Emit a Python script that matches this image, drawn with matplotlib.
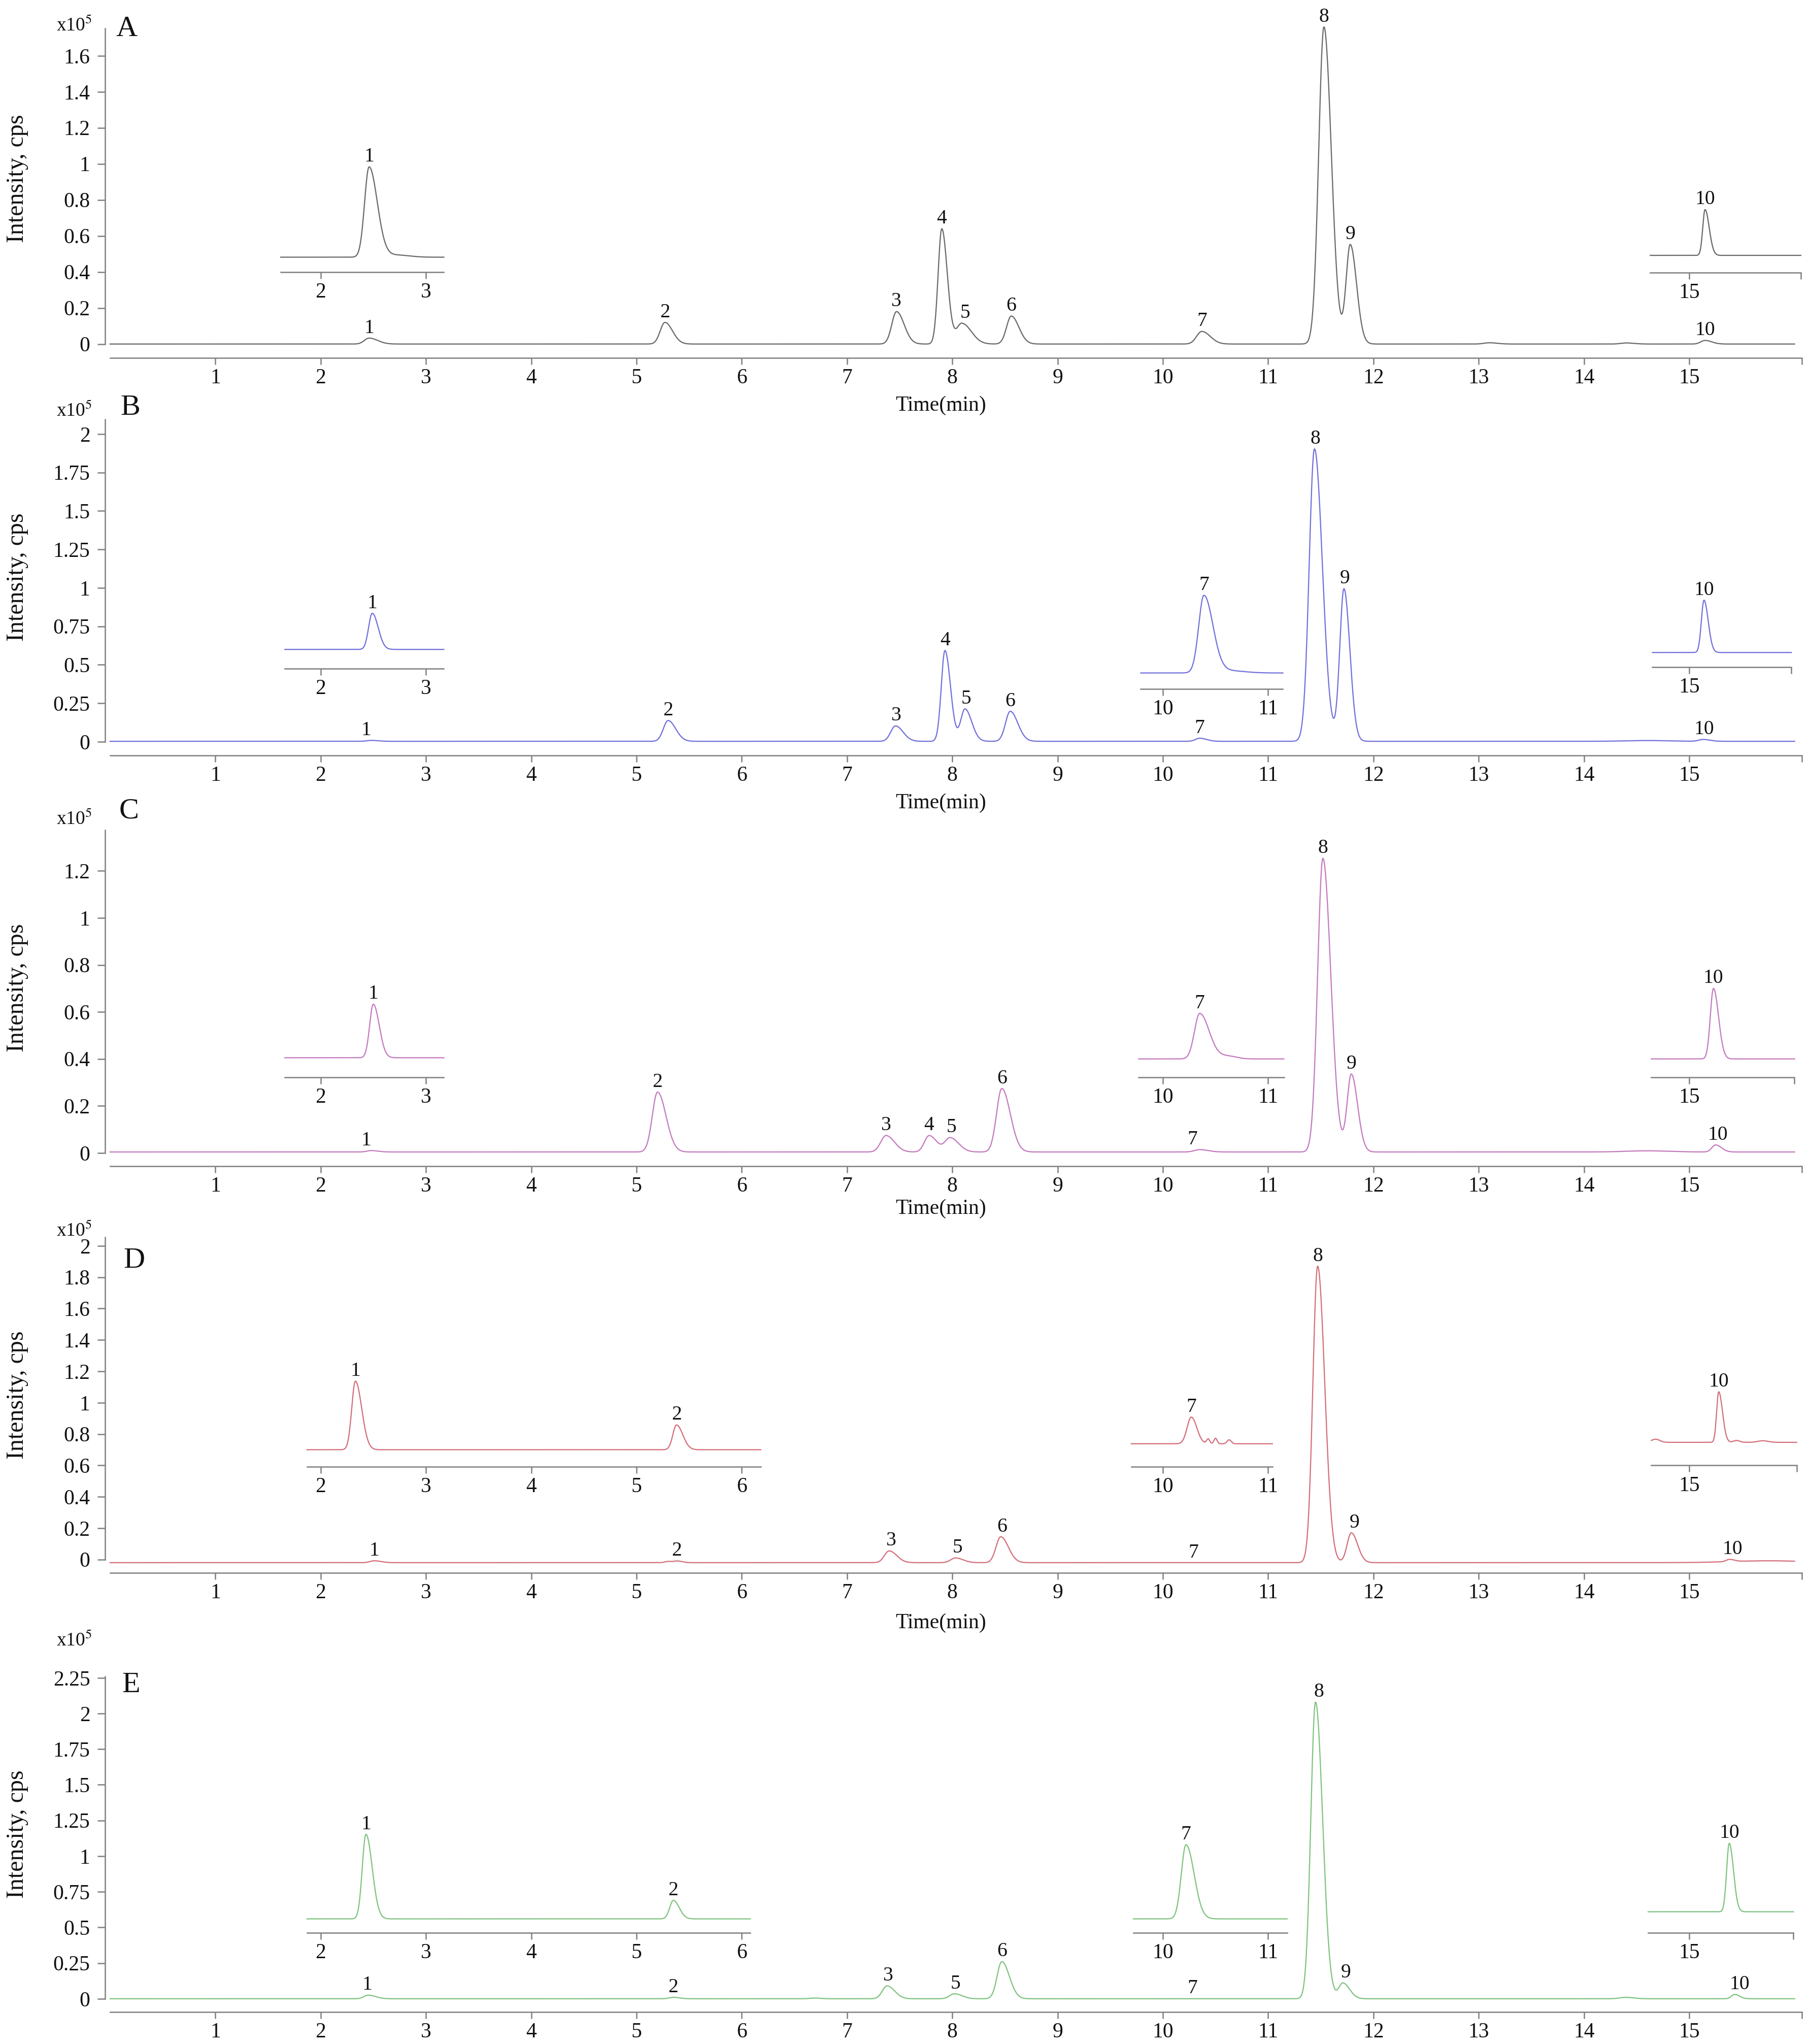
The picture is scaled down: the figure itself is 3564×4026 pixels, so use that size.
import numpy as np
import matplotlib.pyplot as plt

plt.rcParams['font.family'] = ['Liberation Serif', 'DejaVu Serif']
plt.rcParams['mathtext.fontset'] = 'stix'

# Output size
FIG_W = 3564
FIG_H = 4026
DPI = 300

AXIS_COLOR = '#7f7f7f'
TEXT_COLOR = '#111111'

# Peak tables: (retention time min, height x1e5 cps, sigma min, tailing)
A_PEAKS = [
    (2.46, 0.033, 0.045, 1.8),
    (5.27, 0.12, 0.045, 1.6),
    (7.47, 0.18, 0.045, 1.6),
    (7.90, 0.64, 0.035, 1.5),
    (8.09, 0.115, 0.05, 1.8),
    (8.56, 0.155, 0.045, 1.6),
    (10.37, 0.07, 0.05, 1.6),
    (11.53, 1.76, 0.05, 1.4),
    (11.78, 0.55, 0.04, 1.5),
    (13.10, 0.007, 0.05, 1.5),
    (14.40, 0.006, 0.05, 1.5),
    (15.15, 0.02, 0.04, 1.6),
]
B_PEAKS = [
    (2.48, 0.006, 0.04, 1.6),
    (5.30, 0.135, 0.045, 1.6),
    (7.46, 0.10, 0.045, 1.6),
    (7.93, 0.59, 0.035, 1.5),
    (8.12, 0.21, 0.04, 1.6),
    (8.55, 0.195, 0.045, 1.6),
    (10.35, 0.02, 0.04, 1.6),
    (11.44, 1.90, 0.05, 1.5),
    (11.72, 0.99, 0.04, 1.4),
    (14.60, 0.005, 0.2, 1.0),
    (15.13, 0.012, 0.04, 1.6),
]
C_PEAKS = [
    (2.48, 0.006, 0.04, 1.6),
    (5.20, 0.255, 0.05, 1.6),
    (7.37, 0.07, 0.05, 1.6),
    (7.78, 0.07, 0.045, 1.6),
    (7.98, 0.06, 0.05, 1.6),
    (8.47, 0.27, 0.05, 1.6),
    (10.35, 0.01, 0.05, 1.6),
    (11.52, 1.25, 0.05, 1.5),
    (11.79, 0.33, 0.04, 1.5),
    (14.60, 0.005, 0.2, 1.0),
    (15.25, 0.03, 0.035, 1.6),
]
D_PEAKS = [
    (2.51, 0.012, 0.04, 1.6),
    (5.30, 0.008, 0.03, 1.5),
    (5.39, 0.01, 0.03, 1.5),
    (7.40, 0.075, 0.045, 1.6),
    (8.03, 0.03, 0.045, 1.6),
    (8.46, 0.165, 0.045, 1.6),
    (11.47, 1.89, 0.045, 1.5),
    (11.79, 0.19, 0.04, 1.5),
    (15.38, 0.014, 0.03, 1.6),
    (15.75, 0.012, 0.35, 1.0),
]
E_PEAKS = [
    (2.45, 0.025, 0.04, 1.8),
    (5.35, 0.01, 0.04, 1.5),
    (6.70, 0.005, 0.05, 1.0),
    (7.38, 0.09, 0.045, 1.6),
    (8.02, 0.035, 0.045, 1.6),
    (8.47, 0.26, 0.045, 1.6),
    (11.45, 2.08, 0.045, 1.5),
    (11.71, 0.11, 0.04, 1.6),
    (14.40, 0.01, 0.06, 1.2),
    (15.43, 0.03, 0.03, 1.6),
]
BASELINES = {'A': 0.0, 'B': 0.003, 'C': 0.004, 'D': -0.02, 'E': 0.0}

# Peak numbers and where they sit (min)
A_LABELS = [('1', 2.46), ('2', 5.27), ('3', 7.47), ('4', 7.90), ('5', 8.12),
            ('6', 8.56), ('7', 10.37), ('8', 11.53), ('9', 11.78), ('10', 15.15)]
B_LABELS = [('1', 2.43), ('2', 5.30), ('3', 7.47), ('4', 7.93), ('5', 8.13),
            ('6', 8.55), ('7', 10.35), ('8', 11.45), ('9', 11.73), ('10', 15.14)]
C_LABELS = [('1', 2.43), ('2', 5.20), ('3', 7.37), ('4', 7.78), ('5', 7.99),
            ('6', 8.47), ('7', 10.28), ('8', 11.52), ('9', 11.79), ('10', 15.27)]
D_LABELS = [('1', 2.51), ('2', 5.38), ('3', 7.42), ('5', 8.05), ('6', 8.47),
            ('7', 10.29), ('8', 11.47), ('9', 11.82), ('10', 15.41)]
E_LABELS = [('1', 2.44), ('2', 5.35), ('3', 7.39), ('5', 8.03), ('6', 8.47),
            ('7', 10.28), ('8', 11.48), ('9', 11.74), ('10', 15.48)]

# Enlarged views: peaks (height above the inset baseline, in main units)
A_INSET_PEAKS = [
    [(2.46, 0.50, 0.043, 1.8), (2.72, 0.012, 0.12, 1.0)],
    [(15.15, 0.254, 0.022, 1.8)],
]
B_INSET_PEAKS = [
    [(2.49, 0.235, 0.035, 1.6)],
    [(10.39, 0.50, 0.05, 1.7), (10.62, 0.015, 0.15, 1.0)],
    [(15.14, 0.34, 0.025, 1.6)],
]
C_INSET_PEAKS = [
    [(2.50, 0.228, 0.035, 1.6)],
    [(10.35, 0.194, 0.05, 1.8), (10.62, 0.012, 0.08, 1.0)],
    [(15.23, 0.30, 0.03, 1.6)],
]
D_INSET_PEAKS = [
    [(2.33, 0.437, 0.035, 1.7), (5.38, 0.158, 0.035, 1.7)],
    [(10.27, 0.17, 0.04, 1.3), (10.43, 0.03, 0.015, 1.0),
     (10.50, 0.035, 0.015, 1.0), (10.63, 0.025, 0.02, 1.0)],
    [(14.68, 0.02, 0.04, 1.0), (15.28, 0.322, 0.02, 1.8),
     (15.45, 0.012, 0.03, 1.0), (15.70, 0.01, 0.05, 1.0)],
]
E_INSET_PEAKS = [
    [(2.43, 0.593, 0.035, 1.7), (5.35, 0.13, 0.035, 1.6)],
    [(10.22, 0.52, 0.045, 1.7)],
    [(15.38, 0.48, 0.025, 1.6)],
]
A_INSET_LABELS = [[('1', 2.46)], [('10', 15.15)]]
B_INSET_LABELS = [[('1', 2.49)], [('7', 10.39)], [('10', 15.14)]]
C_INSET_LABELS = [[('1', 2.50)], [('7', 10.35)], [('10', 15.23)]]
D_INSET_LABELS = [[('1', 2.33), ('2', 5.38)], [('7', 10.27)], [('10', 15.28)]]
E_INSET_LABELS = [[('1', 2.43), ('2', 5.35)], [('7', 10.22)], [('10', 15.38)]]

# y tick values and labels (x1e5)
A_YTICKS = [0, 0.2, 0.4, 0.6, 0.8, 1.0, 1.2, 1.4, 1.6]
A_YLABELS = ['0', '0.2', '0.4', '0.6', '0.8', '1', '1.2', '1.4', '1.6']
B_YTICKS = [0, 0.25, 0.5, 0.75, 1.0, 1.25, 1.5, 1.75, 2.0]
B_YLABELS = ['0', '0.25', '0.5', '0.75', '1', '1.25', '1.5', '1.75', '2']
C_YTICKS = [0, 0.2, 0.4, 0.6, 0.8, 1.0, 1.2]
C_YLABELS = ['0', '0.2', '0.4', '0.6', '0.8', '1', '1.2']
D_YTICKS = [0, 0.2, 0.4, 0.6, 0.8, 1.0, 1.2, 1.4, 1.6, 1.8, 2.0]
D_YLABELS = ['0', '0.2', '0.4', '0.6', '0.8', '1', '1.2', '1.4', '1.6', '1.8', '2']
E_YTICKS = [0, 0.25, 0.5, 0.75, 1.0, 1.25, 1.5, 1.75, 2.0, 2.25]
E_YLABELS = ['0', '0.25', '0.5', '0.75', '1', '1.25', '1.5', '1.75', '2', '2.25']

X_TICKS = list(range(1, 16))
T_END = 16.07

COLORS = {'A': '#6b6b6b', 'B': '#7272dc', 'C': '#c47cbf', 'D': '#d4707c', 'E': '#80c480'}

# Layout (pixels from top, data units)
MAIN_LAYOUT = {
    'A': dict(top=38.8, bottom=704.6, ylim=(-0.076, 1.80), spine_top=1.752,
              exp_y=1.766, letter=(0.155, 1.75), time_px=799),
    'B': dict(top=826, bottom=1487.7, ylim=(-0.088, 2.095), spine_top=2.095,
              exp_y=2.151, letter=(0.19, 2.17), time_px=1582),
    'C': dict(top=1634.5, bottom=2297, ylim=(-0.0565, 1.375), spine_top=1.375,
              exp_y=1.421, letter=(0.18, 1.456), time_px=2381),
    'D': dict(top=2436.5, bottom=3098, ylim=(-0.085, 2.056), spine_top=2.056,
              exp_y=2.096, letter=(0.23, 1.905), time_px=3197),
    'E': dict(top=3302, bottom=3963, ylim=(-0.093, 2.26), spine_top=2.26,
              exp_y=2.512, letter=(0.20, 2.20), time_px=None),
}
# inset: (t start, t end, axis line y, baseline y)
INSET_LAYOUT = {
    'A': [(1.62, 3.17, 0.40, 0.482), (14.63, 16.06, 0.397, 0.492)],
    'B': [(1.66, 3.17, 0.475, 0.60), (9.79, 11.14, 0.343, 0.447), (14.65, 15.97, 0.485, 0.58)],
    'C': [(1.66, 3.17, 0.322, 0.405), (9.77, 11.15, 0.322, 0.40), (14.64, 16.0, 0.322, 0.40)],
    'D': [(1.87, 6.18, 0.592, 0.70), (9.70, 11.04, 0.592, 0.738), (14.64, 16.02, 0.60, 0.747)],
    'E': [(1.87, 6.08, 0.463, 0.56), (9.72, 11.18, 0.463, 0.56), (14.61, 15.99, 0.463, 0.61)],
}
AX_LEFT_PX = 206.6
AX_RIGHT_PX = 3550
XLIM = (-0.05, T_END)

PANELS = [
    ('A', A_PEAKS, A_LABELS, A_INSET_PEAKS, A_INSET_LABELS, A_YTICKS, A_YLABELS),
    ('B', B_PEAKS, B_LABELS, B_INSET_PEAKS, B_INSET_LABELS, B_YTICKS, B_YLABELS),
    ('C', C_PEAKS, C_LABELS, C_INSET_PEAKS, C_INSET_LABELS, C_YTICKS, C_YLABELS),
    ('D', D_PEAKS, D_LABELS, D_INSET_PEAKS, D_INSET_LABELS, D_YTICKS, D_YLABELS),
    ('E', E_PEAKS, E_LABELS, E_INSET_PEAKS, E_INSET_LABELS, E_YTICKS, E_YLABELS),
]

TICK_FS = 10
PEAK_FS = 9.5
LW = 0.55


def chromatogram(t, peaks, base=0.0):
    """Sum of tailed gaussian peaks"""
    y = np.full_like(t, base)
    for rt, h, s, tail in peaks:
        sig = np.where(t < rt, s, s * tail)
        y += h * np.exp(-0.5 * ((t - rt) / sig) ** 2)
    return y


def label_peaks(ax, t, y, labels):
    for text, x in labels:
        win = np.abs(t - x) < 0.05
        ax.annotate(text, (x, y[win].max()), xytext=(0, 2.5), textcoords='offset points',
                    ha='center', va='baseline', fontsize=PEAK_FS, color=TEXT_COLOR,
                    annotation_clip=False)


def style_xaxis(ax, ticks, labels):
    ax.set_xticks(ticks)
    ax.set_xticklabels(labels)
    ax.tick_params(axis='x', direction='out', length=3, width=0.6, color=AXIS_COLOR,
                   labelsize=TICK_FS, labelcolor=TEXT_COLOR, pad=2)
    ax.spines['bottom'].set_color(AXIS_COLOR)
    ax.spines['bottom'].set_linewidth(0.6)


fig = plt.figure(figsize=(FIG_W / DPI, FIG_H / DPI), dpi=DPI)

for key, peaks, labels, inset_peaks, inset_labels, yticks, ylabels in PANELS:
    lay = MAIN_LAYOUT[key]
    rect = [AX_LEFT_PX / FIG_W, 1 - lay['bottom'] / FIG_H,
            (AX_RIGHT_PX - AX_LEFT_PX) / FIG_W, (lay['bottom'] - lay['top']) / FIG_H]
    ax = fig.add_axes(rect)
    ax.patch.set_visible(False)
    color = COLORS[key]

    t = np.linspace(0, 16.0, 6000)
    y = chromatogram(t, peaks, BASELINES[key])
    ax.plot(t, y, color=color, lw=LW, clip_on=False)
    label_peaks(ax, t, y, labels)

    ax.set_xlim(*XLIM)
    ax.set_ylim(*lay['ylim'])
    for side in ('top', 'right'):
        ax.spines[side].set_visible(False)
    ax.spines['left'].set_bounds(0, lay['spine_top'])
    ax.spines['left'].set_color(AXIS_COLOR)
    ax.spines['left'].set_linewidth(0.6)
    ax.spines['bottom'].set_bounds(0, T_END)
    style_xaxis(ax, X_TICKS + [T_END], [str(v) for v in X_TICKS] + [''])
    ax.set_yticks(yticks)
    ax.set_yticklabels(ylabels)
    ax.tick_params(axis='y', direction='out', length=3.5, width=0.6, color=AXIS_COLOR,
                   labelsize=TICK_FS, labelcolor=TEXT_COLOR, pad=3.5)

    ax.set_ylabel('Intensity, cps', fontsize=11.5, color=TEXT_COLOR)
    ax.yaxis.set_label_coords(-0.045, 0.53)
    if lay['time_px'] is not None:
        frac = (lay['bottom'] - lay['time_px']) / (lay['bottom'] - lay['top'])
        ax.set_xlabel('Time(min)', fontsize=10, color=TEXT_COLOR)
        ax.xaxis.set_label_coords((7.89 - XLIM[0]) / (XLIM[1] - XLIM[0]), frac)
        ax.xaxis.label.set_verticalalignment('center')

    ax.text(-0.17, lay['exp_y'], 'x10$^5$', ha='right', va='center', fontsize=9,
            color=TEXT_COLOR, clip_on=False)
    lx, ly = lay['letter']
    ax.text(lx, ly, key, ha='center', va='center', fontsize=14, color=TEXT_COLOR,
            clip_on=False)

    # enlarged views
    for (x0, x1, axis_y, base_y), ipeaks, ilabels in zip(INSET_LAYOUT[key], inset_peaks, inset_labels):
        h = 0.9
        iax = ax.inset_axes([x0, axis_y, x1 - x0, h], transform=ax.transData)
        iax.patch.set_visible(False)
        ti = np.linspace(x0, x1, 1500)
        yi = chromatogram(ti, ipeaks)
        iax.plot(ti, yi, color=color, lw=LW, clip_on=False)
        iax.set_xlim(x0, x1)
        iax.set_ylim(axis_y - base_y, axis_y - base_y + h)
        for side in ('top', 'right', 'left'):
            iax.spines[side].set_visible(False)
        iax.set_yticks([])
        ticks = [v for v in range(int(np.ceil(x0)), int(np.floor(x1)) + 1) if v <= 15]
        tlabels = [str(v) for v in ticks]
        if x1 > 15.9:
            ticks = ticks + [x1]
            tlabels = tlabels + ['']
        style_xaxis(iax, ticks, tlabels)
        label_peaks(iax, ti, yi, ilabels)

fig.savefig('out.png', dpi=DPI)
